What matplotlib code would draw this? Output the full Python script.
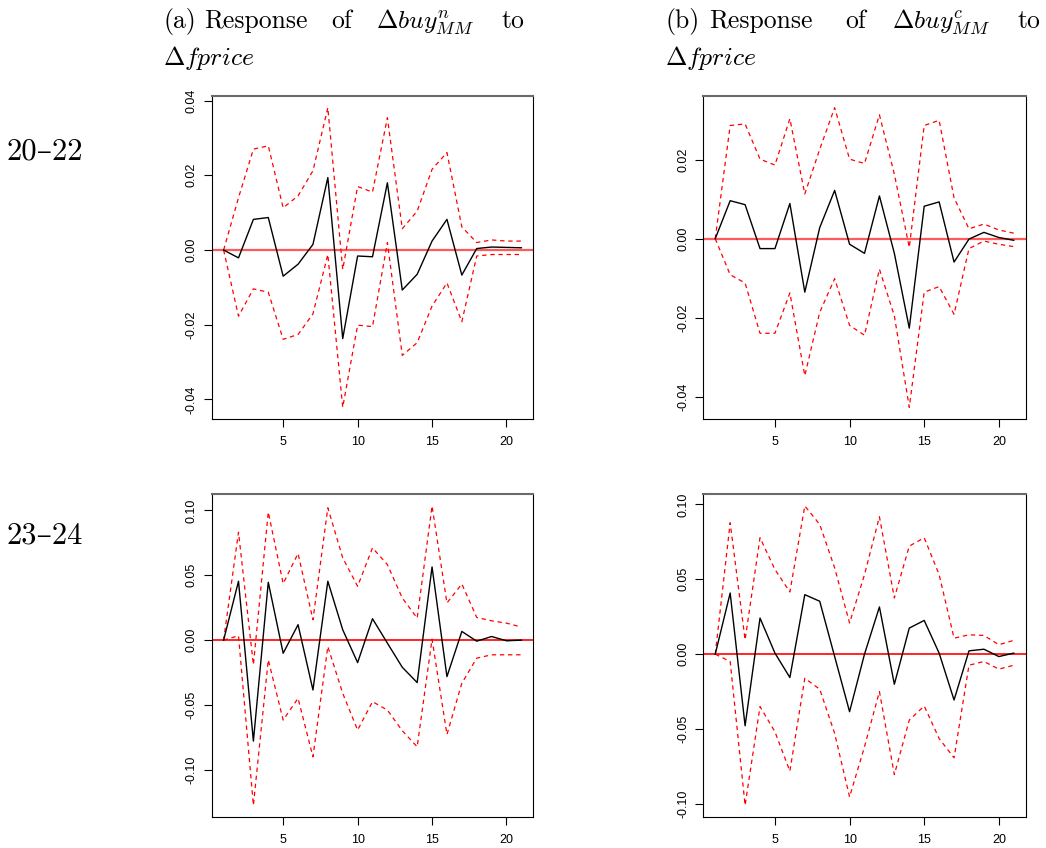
import matplotlib
matplotlib.use("Agg")
import matplotlib.pyplot as plt
from matplotlib.ticker import FormatStrFormatter

plt.rcParams['axes.unicode_minus'] = False
plt.rcParams['mathtext.fontset'] = 'cm'

W, H = 1046, 848

steps = list(range(1, 22))

# panel (a), 20-22
irf_a1 = [0.0, -0.0021, 0.0082, 0.0087, -0.0070, -0.0038, 0.0015, 0.0194, -0.0237, -0.0016, -0.0018,
          0.0180, -0.0107, -0.0065, 0.0024, 0.0082, -0.0067, 0.0004, 0.0008, 0.0007, 0.0006]
upper_a1 = [0.0, 0.0140, 0.0270, 0.0279, 0.0113, 0.0145, 0.0212, 0.0381, -0.0052, 0.0170, 0.0155,
            0.0354, 0.0057, 0.0104, 0.0216, 0.0261, 0.0062, 0.0020, 0.0027, 0.0024, 0.0024]
lower_a1 = [0.0, -0.0177, -0.0104, -0.0113, -0.0239, -0.0226, -0.0171, -0.0012, -0.0421, -0.0201, -0.0205,
            0.0020, -0.0282, -0.0248, -0.0150, -0.0088, -0.0192, -0.0016, -0.0012, -0.0012, -0.0012]

# panel (b), 20-22
irf_b1 = [0.0, 0.0096, 0.0086, -0.0025, -0.0025, 0.0089, -0.0135, 0.0028, 0.0122, -0.0014, -0.0037,
          0.0108, -0.0037, -0.0226, 0.0082, 0.0093, -0.0059, -0.0001, 0.0016, 0.0003, -0.0004]
upper_b1 = [0.0, 0.0286, 0.0290, 0.0201, 0.0186, 0.0303, 0.0113, 0.0226, 0.0331, 0.0201, 0.0190,
            0.0313, 0.0163, -0.0022, 0.0286, 0.0299, 0.0103, 0.0025, 0.0037, 0.0022, 0.0014]
lower_b1 = [0.0, -0.0091, -0.0112, -0.0239, -0.0239, -0.0137, -0.0346, -0.0186, -0.0101, -0.0219, -0.0244,
            -0.0077, -0.0195, -0.0426, -0.0135, -0.0121, -0.0191, -0.0025, -0.0006, -0.0014, -0.0020]

# panel (a), 23-24
irf_a2 = [0.0, 0.0454, -0.0778, 0.0446, -0.0101, 0.0119, -0.0384, 0.0454, 0.0080, -0.0173, 0.0165,
          -0.0023, -0.0209, -0.0327, 0.0564, -0.0281, 0.0067, -0.0008, 0.0028, -0.0005, 0.0]
upper_a2 = [0.0, 0.0832, -0.0190, 0.0987, 0.0436, 0.0668, 0.0157, 0.1020, 0.0634, 0.0415, 0.0711,
            0.0582, 0.0325, 0.0170, 0.1034, 0.0286, 0.0433, 0.0175, 0.0149, 0.0131, 0.0101]
lower_a2 = [0.0, 0.0034, -0.1273, -0.0152, -0.0616, -0.0448, -0.0899, -0.0049, -0.0410, -0.0693, -0.0474,
            -0.0539, -0.0698, -0.0822, 0.0008, -0.0727, -0.0332, -0.0139, -0.0113, -0.0113, -0.0113]

# panel (b), 23-24
irf_b2 = [0.0, 0.0408, -0.0478, 0.0241, 0.0007, -0.0156, 0.0397, 0.0353, -0.0016, -0.0384, 0.0,
          0.0315, -0.0201, 0.0174, 0.0225, 0.0007, -0.0306, 0.0022, 0.0033, -0.0016, 0.0007]
upper_b2 = [0.0, 0.0877, 0.0096, 0.0777, 0.0565, 0.0415, 0.0989, 0.0866, 0.0576, 0.0208, 0.0531,
            0.0917, 0.0375, 0.0721, 0.0777, 0.0531, 0.0107, 0.0129, 0.0125, 0.0063, 0.0092]
lower_b2 = [0.0, -0.0049, -0.1009, -0.0350, -0.0518, -0.0781, -0.0161, -0.0234, -0.0529, -0.0953, -0.0618,
            -0.0250, -0.0804, -0.0440, -0.0346, -0.0563, -0.0692, -0.0074, -0.0049, -0.0100, -0.0074]

row_labels = ["20\u201322", "23\u201324"]
xticks = [5, 10, 15, 20]
yticks_top = [-0.04, -0.02, 0.0, 0.02, 0.04]
yticks_bottom = [-0.10, -0.05, 0.0, 0.05, 0.10]

fig = plt.figure(figsize=(W / 100, H / 100), dpi=100)


def add_axes_px(left, top, right, bottom):
    return fig.add_axes([left / W, 1 - bottom / H, (right - left) / W, (bottom - top) / H])


def draw_panel(ax, irf, upper, lower, yticks, top_row):
    ax.plot(steps, upper, color='red', lw=0.9, ls=(0, (3.5, 3)))
    ax.plot(steps, lower, color='red', lw=0.9, ls=(0, (3.5, 3)))
    ax.plot(steps, irf, color='black', lw=1.0)
    if top_row:
        ax.axhline(0, color='#ff5a5a', lw=1.6, zorder=1)
    else:
        ax.axhline(0, color='red', lw=1.2, zorder=1)
    ax.margins(x=0.04, y=0.04)
    ax.set_xticks(xticks)
    ax.set_yticks(yticks)
    lo = min(lower)
    hi = max(upper)
    pad = 0.04 * (hi - lo)
    ax.set_ylim(lo - pad, hi + pad)
    ax.yaxis.set_major_formatter(FormatStrFormatter('%.2f'))
    ax.tick_params(axis='both', direction='out', length=6, width=0.8, labelsize=9,
                   colors='black')
    ax.tick_params(axis='y', pad=4)
    ax.tick_params(axis='x', pad=6)
    for lab in ax.get_yticklabels():
        lab.set_rotation(90)
        lab.set_va('center')
    for name, sp in ax.spines.items():
        sp.set_color('black')
        sp.set_linewidth(0.8)
    ax.spines['top'].set_color('#6a6a6a')
    ax.spines['top'].set_linewidth(1.5)
    for lab in ax.get_xticklabels() + ax.get_yticklabels():
        lab.set_family('Liberation Sans')


ax1 = add_axes_px(211.7, 95.7, 533.3, 419.3)
ax2 = add_axes_px(703.3, 95.7, 1025.7, 419.3)
ax3 = add_axes_px(211.7, 494.0, 533.3, 817.3)
ax4 = add_axes_px(703.3, 494.0, 1025.7, 817.3)

draw_panel(ax1, irf_a1, upper_a1, lower_a1, yticks_top, True)
draw_panel(ax2, irf_b1, upper_b1, lower_b1, [-0.04, -0.02, 0.0, 0.02], True)
draw_panel(ax3, irf_a2, upper_a2, lower_a2, yticks_bottom, False)
draw_panel(ax4, irf_b2, upper_b2, lower_b2, yticks_bottom, False)


def ftext(x, y, s, size, ha='left'):
    fig.text(x / W, 1 - y / H, s, fontsize=size, ha=ha, va='baseline',
             family=['cmr10', 'DejaVu Serif'])


# subfigure captions (justified words)
tsize = 18.5
ftext(163, 28, "(a)", tsize)
ftext(204, 28, "Response", tsize)
ftext(331, 28, "of", tsize)
ftext(376, 28, r"$\Delta buy^{n}_{MM}$", tsize)
ftext(524, 28, "to", tsize, ha='right')
ftext(163, 65, r"$\Delta fprice$", tsize)

ftext(665, 28, "(b)", tsize)
ftext(709, 28, "Response", tsize)
ftext(845, 28, "of", tsize)
ftext(892, 28, r"$\Delta buy^{c}_{MM}$", tsize)
ftext(1040, 28, "to", tsize, ha='right')
ftext(665, 65, r"$\Delta fprice$", tsize)

# row labels
ftext(7, 159, row_labels[0], 22)
ftext(7, 543, row_labels[1], 22)

fig.savefig("out.png", dpi=100)
